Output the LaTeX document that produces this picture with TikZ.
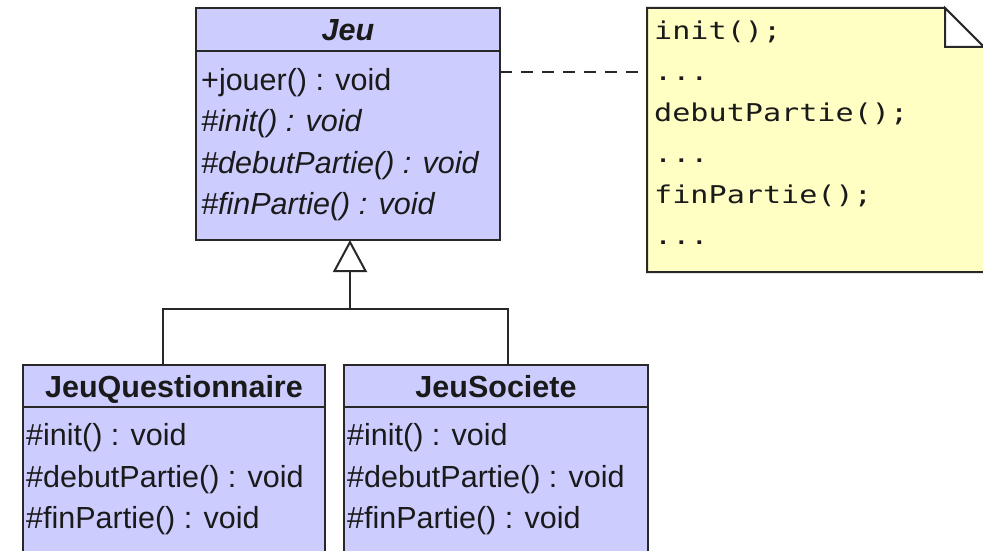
\documentclass[tikz,border=0pt]{standalone}
\usepackage{fontspec}
\setmainfont{Liberation Sans}
\newfontfamily\codefont[FakeStretch=1.23]{DejaVu Sans Mono}
\usetikzlibrary{arrows.meta}

\definecolor{classfill}{RGB}{204,204,255}
\definecolor{notefill}{RGB}{255,255,196}
\definecolor{edge}{RGB}{40,40,40}
\definecolor{ink}{RGB}{26,26,26}

\begin{document}
\begin{tikzpicture}[x=1pt, y=-1pt,
  classbox/.style={draw=edge, fill=classfill, line width=2pt, outer sep=0pt,
                   inner sep=0pt, anchor=north west},
  member/.style={anchor=base west, inner sep=0pt, text=ink,
                 font=\fontsize{30.5}{36}\selectfont},
  classname/.style={anchor=base, inner sep=0pt, text=ink,
                    font=\fontsize{30.5}{36}\selectfont\bfseries},
  codeline/.style={anchor=base west, inner sep=0pt, text=ink,
                   font=\fontsize{24.5}{28}\selectfont\codefont},
  wire/.style={draw=edge, line width=2pt},
  attach/.style={draw=edge, line width=2pt, dash pattern=on 12pt off 9pt}]

\useasboundingbox (0,0) rectangle (983,551);
\clip (0,0) rectangle (983,551);

% abstract class Jeu
\node[classbox, minimum width=304pt, minimum height=232pt] (jeu) at (196,8) {};
\draw[wire] ([yshift=-43pt]jeu.north west) -- ([yshift=-43pt]jeu.north east);
\node[classname, font=\fontsize{30.5}{36}\selectfont\bfseries\itshape] (jeuT) at (348,41) {Jeu};
\node[member] (jeuM1) at (201,90)  {+jouer() : void};
\node[member] (jeuM2) at (201,131) {\itshape \#init() : void};
\node[member] (jeuM3) at (201,173) {\itshape \#debutPartie() : void};
\node[member] (jeuM4) at (201,214) {\itshape \#finPartie() : void};

% subclass JeuQuestionnaire
\node[classbox, minimum width=302pt, minimum height=205pt] (quest) at (23,365) {};
\draw[wire] ([yshift=-42pt]quest.north west) -- ([yshift=-42pt]quest.north east);
\node[classname] (questT) at (174,397) {JeuQuestionnaire};
\node[member] (questM1) at (26,445) {\#init() : void};
\node[member] (questM2) at (26,487) {\#debutPartie() : void};
\node[member] (questM3) at (26,528) {\#finPartie() : void};

% subclass JeuSociete
\node[classbox, minimum width=304pt, minimum height=205pt] (soc) at (344,365) {};
\draw[wire] ([yshift=-42pt]soc.north west) -- ([yshift=-42pt]soc.north east);
\node[classname] (socT) at (496,397) {JeuSociete};
\node[member] (socM1) at (347,445) {\#init() : void};
\node[member] (socM2) at (347,487) {\#debutPartie() : void};
\node[member] (socM3) at (347,528) {\#finPartie() : void};

% note with folded corner
\node[anchor=north west, inner sep=0pt, outer sep=0pt,
      minimum width=337pt, minimum height=264pt] (note) at (647,8) {};
\fill[notefill] (note.north west) -- ([xshift=-39pt]note.north east)
  -- ([yshift=-39pt]note.north east) -- (note.south east)
  -- (note.south west) -- cycle;
\draw[wire, line join=miter] ([yshift=-39pt]note.north east) -- (note.south east)
  -- (note.south west) -- (note.north west) -- ([xshift=-39pt]note.north east)
  -- ([yshift=-39pt]note.north east);
\filldraw[wire, fill=white, line join=miter] ([xshift=-39pt]note.north east)
  -- ([xshift=-39pt, yshift=-39pt]note.north east)
  -- ([yshift=-39pt]note.north east) -- cycle;
\node[codeline] (code1) at (654,40)    {init();};
\node[codeline] (code2) at (654,80.8)  {...};
\node[codeline] (code3) at (654,121.6) {debutPartie();};
\node[codeline] (code4) at (654,162.4) {...};
\node[codeline] (code5) at (654,203.2) {finPartie();};
\node[codeline] (code6) at (654,244)   {...};

% note attachment
\draw[attach] ([yshift=-64pt]jeu.north east) -- ([yshift=-64pt]note.north west);

% generalization
\coordinate (joint) at (350,309);
\draw[wire] ([xshift=-11pt]quest.north) |- (joint) -| ([xshift=12pt]soc.north);
\draw[wire, -{Triangle[length=32pt, width=34pt, fill=white, line join=miter]}]
  (joint) -- (joint |- jeu.south);

\end{tikzpicture}
\end{document}
